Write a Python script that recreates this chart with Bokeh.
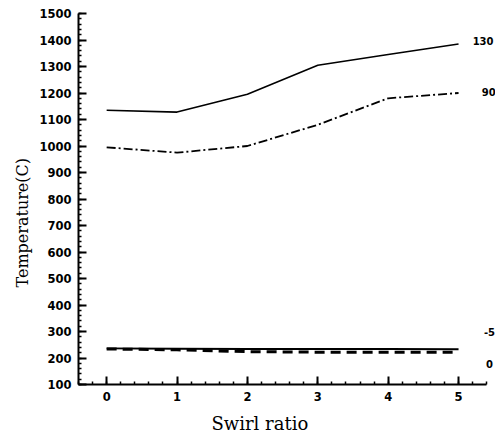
from bokeh.plotting import figure
from bokeh.models import Label, FixedTicker, Range1d, Title
from bokeh.embed import file_html
from bokeh.resources import INLINE

swirl = [0, 1, 2, 3, 4, 5]
t130 = [1135, 1128, 1195, 1305, 1345, 1385]
t90 = [995, 975, 1000, 1080, 1180, 1200]
tm5 = [236, 235, 234, 234, 234, 233]
t0 = [234, 231, 224, 222, 222, 222]

x_ticks = [0, 1, 2, 3, 4, 5]
y_ticks = list(range(100, 1600, 100))

curve_labels = ["130", "90", "-5", "0"]
label_x = [5.2, 5.33, 5.36, 5.39]
label_y = [1398, 1203, 300, 176]

p = figure(width=495, height=440, output_backend="svg", toolbar_location=None,
           x_range=Range1d(-0.4, 5.525), y_range=Range1d(100, 1500),
           min_border_left=78, min_border_right=0, min_border_top=13, min_border_bottom=55)
p.outline_line_color = None
p.grid.visible = False
p.background_fill_color = "white"

p.line(swirl, t130, line_color="black", line_width=1.6)
p.line(swirl, t90, line_color="black", line_width=1.8, line_dash="9 3 2 3")
p.line(swirl, tm5, line_color="black", line_width=1.8)
p.line(swirl, t0, line_color="black", line_width=3, line_dash="10 6")

for ax in (p.xaxis[0], p.yaxis[0]):
    ax.axis_line_width = 2
    ax.axis_line_color = "black"
    ax.major_tick_in = 8
    ax.major_tick_out = 0
    ax.major_tick_line_width = 2
    ax.minor_tick_in = 3
    ax.minor_tick_out = 0
    ax.minor_tick_line_width = 1.5
    ax.major_label_text_font = "DejaVu Sans"
    ax.major_label_text_font_style = "bold"
    ax.major_label_text_font_size = "11.5px"
    ax.major_label_text_color = "black"

p.xaxis.bounds = (-0.4, 5.4)
p.xaxis.ticker = FixedTicker(ticks=x_ticks, minor_ticks=[i / 5 for i in range(-2, 28)])
p.yaxis.ticker = FixedTicker(ticks=y_ticks, minor_ticks=list(range(100, 1501, 20)))
p.yaxis.major_label_standoff = 7
p.xaxis.major_label_standoff = 7

for t, lx, ly in zip(curve_labels, label_x, label_y):
    p.add_layout(Label(x=lx, y=ly, text=t, text_font="DejaVu Sans", text_font_style="bold",
                       text_font_size="10px", text_align="left", text_baseline="middle",
                       text_color="black"))

p.add_layout(Title(text="Swirl ratio", text_font="DejaVu Serif", text_font_size="18px",
                   text_font_style="normal", align="left", offset=133, standoff=14,
                   text_color="#000000"), "below")
p.add_layout(Title(text="Temperature(C)", text_font="DejaVu Serif", text_font_size="16px",
                   text_font_style="normal", align="left", offset=97, standoff=10,
                   text_color="#000000"), "left")

open("out.html", "w").write(file_html(p, INLINE))
